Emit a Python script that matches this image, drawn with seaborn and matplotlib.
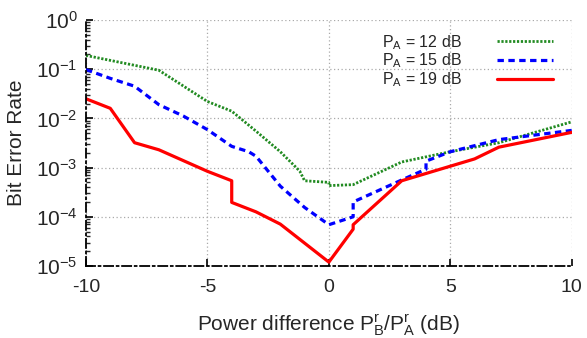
import numpy as np
import pandas as pd
import seaborn as sns
import matplotlib.pyplot as plt
from matplotlib.ticker import LogLocator, LogFormatterMathtext, NullFormatter

# BER vs power difference
x_12 = [-10, -7, -5, -4, -3, -2, -1.2, -1, 0, 0, 1, 3, 5, 7, 10]
ber_12 = [0.19, 0.095, 0.022, 0.014, 0.0055, 0.0021, 8.5e-4, 5.4e-4, 5.0e-4, 4.3e-4, 4.5e-4,
          0.0013, 0.0021, 0.0032, 0.0085]

x_15 = [-10, -9, -8, -7, -6, -5, -4, -3.3, -3, -2, -1, 0, 1, 1, 3, 4, 4, 5, 7, 10]
ber_15 = [0.098, 0.065, 0.045, 0.019, 0.0112, 0.0059, 0.0027, 0.0021, 0.0017, 4.2e-4, 1.55e-4,
          6.9e-5, 1.0e-4, 2.0e-4, 5.6e-4, 9.3e-4, 1.35e-3, 2.1e-3, 3.7e-3, 5.7e-3]

x_19 = [-10, -9, -8, -7, -5, -4, -4, -3, -2, 0, 1, 1, 3, 6, 7, 10]
ber_19 = [0.025, 0.016, 0.0032, 0.0023, 8.4e-4, 5.4e-4, 1.96e-4, 1.26e-4, 7.1e-5, 1.2e-5,
          5.6e-5, 6.9e-5, 5.4e-4, 0.0015, 0.0026, 0.0052]

labels = [r'P$_\mathregular{A}$ = 12 dB', r'P$_\mathregular{A}$ = 15 dB', r'P$_\mathregular{A}$ = 19 dB']

sns.set_style("white")
plt.rcParams['font.family'] = ['Liberation Sans', 'DejaVu Sans']
plt.rcParams['mathtext.fontset'] = 'custom'
plt.rcParams['mathtext.rm'] = 'Liberation Sans'
plt.rcParams['mathtext.it'] = 'Liberation Sans'
plt.rcParams['axes.unicode_minus'] = False

fig = plt.figure(figsize=(5.87, 3.38), dpi=100)
ax = fig.add_axes([0.1465, 0.213, 0.8275, 0.728])

sns.lineplot(x=x_12, y=ber_12, ax=ax, estimator=None, sort=False, color='#228b22',
             lw=2.0, linestyle=(0, (0.8, 0.6)), label=labels[0])
sns.lineplot(x=x_15, y=ber_15, ax=ax, estimator=None, sort=False, color='#0000ff',
             lw=2.3, linestyle=(0, (2, 1.4)), label=labels[1])
sns.lineplot(x=x_19, y=ber_19, ax=ax, estimator=None, sort=False, color='#ff0000',
             lw=2.3, label=labels[2])

ax.set_yscale('log')
ax.set_xlim(-10, 10)
ax.set_ylim(1e-5, 1)
ax.set_xticks([-10, -5, 0, 5, 10])
ax.yaxis.set_major_locator(LogLocator(base=10, numticks=10))
ax.yaxis.set_major_formatter(LogFormatterMathtext())
ax.yaxis.set_minor_locator(LogLocator(base=10, subs=np.arange(2, 10), numticks=20))
ax.yaxis.set_minor_formatter(NullFormatter())

ax.grid(True, which='major', color='#aaaaaa', linestyle=(0, (1, 2)), lw=0.9)
ax.tick_params(axis='both', which='major', direction='in', length=5, width=1.2,
               color='black')
ax.tick_params(axis='x', which='major', labelsize=14, pad=9, bottom=True)
ax.tick_params(axis='y', which='major', labelsize=15, pad=6, left=True)
ax.tick_params(axis='y', which='minor', direction='in', length=3, width=1.0, left=True)

for side in ['top', 'right']:
    ax.spines[side].set_visible(False)
for side in ['left', 'bottom']:
    ax.spines[side].set_color('black')
    ax.spines[side].set_linewidth(1.3)
    ax.spines[side].set_linestyle((0, (5, 2, 1, 2)))

ax.set_xlabel(r'Power difference P$_\mathregular{B}^\mathregular{r}$/P$_\mathregular{A}^\mathregular{r}$ (dB)',
              fontsize=15, labelpad=12)
ax.set_ylabel('Bit Error Rate', fontsize=15, labelpad=7)

ax.legend(loc='upper right', bbox_to_anchor=(0.99, 1.005), frameon=False, fontsize=11.5,
          markerfirst=False, handlelength=3.5, handletextpad=2.2, labelspacing=0.0)

fig.savefig('out.png', dpi=100)
